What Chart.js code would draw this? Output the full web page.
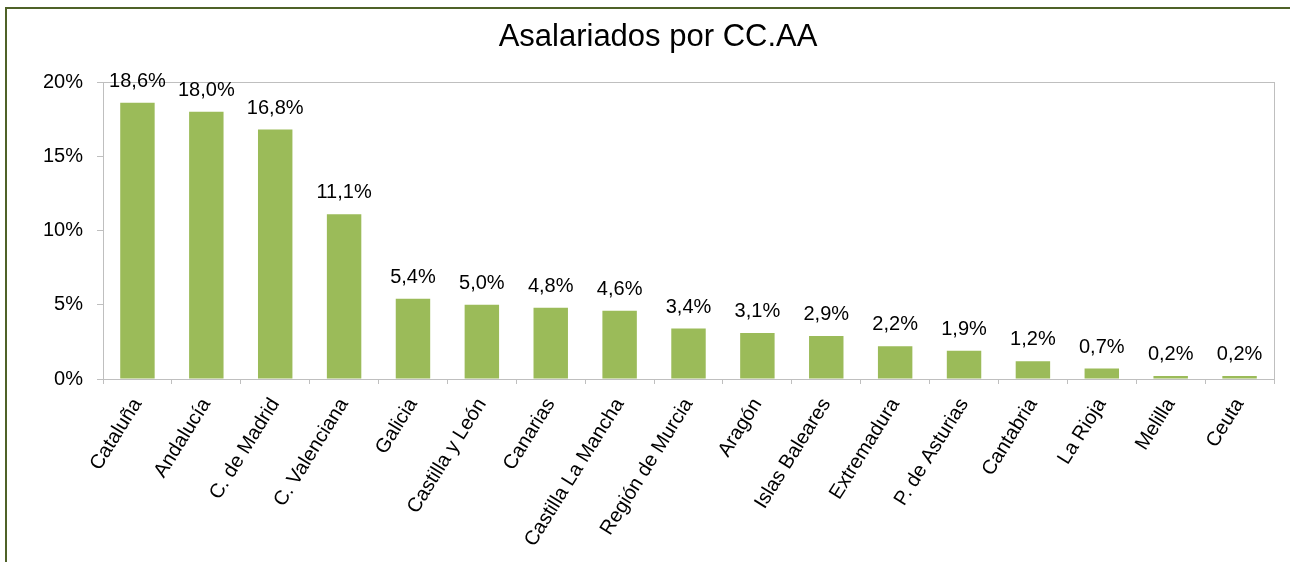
<!DOCTYPE html>
<html>
<head>
<meta charset="utf-8">
<script src="https://cdn.jsdelivr.net/npm/chart.js@4"></script>
<style>
  html, body { margin: 0; padding: 0; background: #fff; overflow: hidden; }
  #wrap { position: relative; width: 1290px; height: 562px; }
  #frame { position: absolute; left: 5px; top: 7px; width: 2000px; height: 2000px;
           border: 2px solid #4F6228; pointer-events: none; }
  canvas { display: block; }
</style>
</head>
<body>
<div id="wrap">
  <canvas id="c" width="1290" height="562"></canvas>
  <div id="frame"></div>
</div>
<script>
const categories = ['Cataluña','Andalucía','C. de Madrid','C. Valenciana','Galicia','Castilla y León','Canarias','Castilla La Mancha','Región de Murcia','Aragón','Islas Baleares','Extremadura','P. de Asturias','Cantabria','La Rioja','Melilla','Ceuta'];
const values = [18.6, 18.0, 16.8, 11.1, 5.4, 5.0, 4.8, 4.6, 3.4, 3.1, 2.9, 2.2, 1.9, 1.2, 0.7, 0.2, 0.2];
const yTicks = [0, 5, 10, 15, 20];
const titleText = 'Asalariados por CC.AA';

const FONT = "'Liberation Sans', Arial, sans-serif";
const fmt = v => v.toFixed(1).replace('.', ',') + '%';

const areaBorder = {
  id: 'areaBorder',
  beforeDatasetsDraw(chart) {
    const {ctx, chartArea: a} = chart;
    ctx.save();
    ctx.strokeStyle = '#BFBFBF';
    ctx.lineWidth = 1;
    ctx.strokeRect(Math.round(a.left) + 0.5, Math.round(a.top) + 0.5,
                   Math.round(a.right - a.left), Math.round(a.bottom - a.top));
    ctx.restore();
  }
};

const dataLabels = {
  id: 'dataLabels',
  afterDatasetsDraw(chart) {
    const {ctx} = chart;
    const meta = chart.getDatasetMeta(0);
    ctx.save();
    ctx.font = '20px ' + FONT;
    ctx.fillStyle = '#000';
    ctx.textAlign = 'center';
    ctx.textBaseline = 'alphabetic';
    meta.data.forEach((bar, i) => {
      ctx.fillText(fmt(values[i]), bar.x, bar.y - 16);
    });
    ctx.restore();
  }
};

new Chart(document.getElementById('c'), {
  type: 'bar',
  data: {
    labels: categories,
    datasets: [{
      data: values,
      backgroundColor: '#9BBB59',
      borderWidth: 0,
      categoryPercentage: 1.0,
      barPercentage: 0.5
    }]
  },
  options: {
    responsive: false,
    animation: false,
    devicePixelRatio: 1,
    layout: { padding: { left: 42, right: 16, top: 0, bottom: 0 } },
    plugins: {
      legend: { display: false },
      tooltip: { enabled: false },
      title: {
        display: true,
        text: titleText,
        color: '#000',
        font: { family: FONT, size: 31, weight: 'normal' },
        padding: { top: 19, bottom: 25.8 }
      }
    },
    scales: {
      x: {
        grid: { display: true, drawOnChartArea: false, drawTicks: true, tickLength: 5, color: '#BFBFBF', offset: true },
        border: { display: true, color: '#BFBFBF' },
        ticks: {
          color: '#000',
          font: { family: FONT, size: 20 },
          minRotation: 58, maxRotation: 58,
          autoSkip: false,
          padding: 10
        },
        afterFit(scale) { scale.height = 183; }
      },
      y: {
        min: 0, max: 20,
        grid: { display: true, drawOnChartArea: false, drawTicks: true, tickLength: 6, color: '#BFBFBF' },
        border: { display: true, color: '#BFBFBF' },
        afterBuildTicks(scale) { scale.ticks = yTicks.map(v => ({ value: v })); },
        ticks: {
          color: '#000',
          font: { family: FONT, size: 20 },
          padding: 14,
          callback: v => v + '%'
        },
        afterFit(scale) { scale.width = 61; }
      }
    }
  },
  plugins: [areaBorder, dataLabels]
});
</script>
</body>
</html>
